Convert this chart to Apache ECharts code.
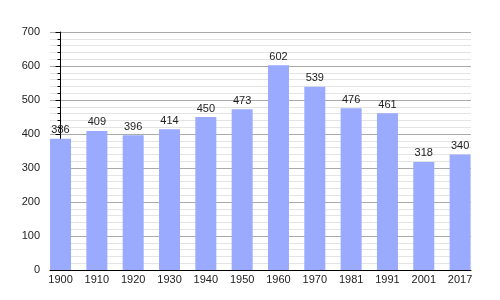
<!DOCTYPE html>
<html>
<head>
<meta charset="utf-8">
<script src="https://cdn.jsdelivr.net/npm/echarts@6/dist/echarts.min.js"></script>
<style>
html,body{margin:0;padding:0;background:#fff;}
#chart{width:500px;height:300px;}
</style>
</head>
<body>
<div id="chart"></div>
<script>
var categories = ['1900','1910','1920','1930','1940','1950','1960','1970','1981','1991','2001','2017'];
var values = [386, 409, 396, 414, 450, 473, 602, 539, 476, 461, 318, 340];
var yTicks = [0, 100, 200, 300, 400, 500, 600, 700];

var chart = echarts.init(document.getElementById('chart'), null, {renderer: 'canvas'});
var font = 'Liberation Sans, Arial, sans-serif';
var idx = categories.map(function (c, i) { return i; });
chart.setOption({
  animation: false,
  backgroundColor: '#fff',
  grid: {left: 50, right: 29, top: 32, bottom: 30, containLabel: false},
  xAxis: {
    type: 'value',
    min: -0.29,
    max: 11.3,
    axisLine: {show: true, onZero: false, lineStyle: {color: '#000', width: 1}},
    axisTick: {show: false},
    splitLine: {show: false},
    axisLabel: {
      customValues: idx,
      margin: 4,
      fontFamily: font,
      fontSize: 11,
      color: '#222',
      formatter: function (v) { return categories[Math.round(v)]; }
    }
  },
  yAxis: {
    type: 'value',
    min: yTicks[0],
    max: yTicks[yTicks.length - 1],
    interval: 100,
    axisLine: {show: true, lineStyle: {color: '#000', width: 1}},
    axisTick: {show: true, length: 5, lineStyle: {color: '#000'}},
    minorTick: {show: true, splitNumber: 5, length: 3, lineStyle: {color: '#000'}},
    splitLine: {show: true, lineStyle: {color: '#aaa', width: 1}},
    minorSplitLine: {show: true, lineStyle: {color: '#e4e4e4', width: 1}},
    axisLabel: {margin: 10, fontFamily: font, fontSize: 11, color: '#222'}
  },
  series: [{
    type: 'bar',
    barWidth: 21,
    data: values.map(function (v, i) { return [i, v]; }),
    itemStyle: {color: '#99aaff'},
    label: {
      show: true,
      position: 'top',
      distance: 3,
      fontFamily: font,
      fontSize: 11,
      color: '#222',
      formatter: function (p) { return p.value[1]; }
    }
  }]
});
</script>
</body>
</html>
